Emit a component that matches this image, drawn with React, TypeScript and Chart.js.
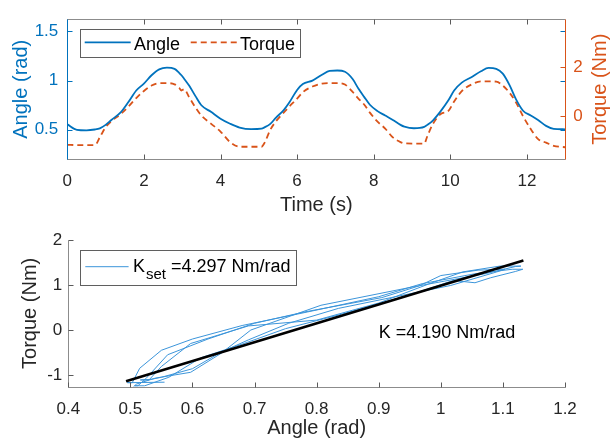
import React, { useEffect, useRef } from 'react';
import { Chart, registerables } from 'chart.js';

Chart.register(...registerables);

const FONT = '"Liberation Sans", Arial, Helvetica, sans-serif';
const BLUE = '#0072BD';
const ORANGE = '#D95319';
const LOOP_BLUE = '#3C95DA';
const TEXT = '#262626';
const AXIS_GRAY = '#8C8C8C';
const TICK_GRAY = '#5A5A5A';

// ---- data ----
const time = [
  0, 0.25, 0.5, 0.72, 0.85, 1.0, 1.15, 1.4, 1.6, 1.8,
  2.0, 2.2, 2.4, 2.6, 2.8, 2.92, 2.98, 3.05, 3.18, 3.35,
  3.5, 3.75, 4.0, 4.25, 4.5, 4.8, 5.07, 5.15, 5.3, 5.45,
  5.65, 5.8, 6.0, 6.15, 6.4, 6.65, 6.85, 7.05, 7.25, 7.45,
  7.6, 7.75, 7.9, 8.1, 8.3, 8.5, 8.7, 8.8, 9.05, 9.32,
  9.4, 9.55, 9.75, 9.95, 10.1, 10.3, 10.55, 10.8, 11.0, 11.2,
  11.37, 11.55, 11.72, 11.9, 12.1, 12.3, 12.5, 12.7, 13.0,
];
const angle = [
  0.555, 0.5, 0.495, 0.503, 0.515, 0.55, 0.6, 0.68, 0.785, 0.9,
  0.97, 1.055, 1.115, 1.132, 1.12, 1.08, 1.055, 1.02, 0.95, 0.84,
  0.75, 0.683, 0.613, 0.562, 0.523, 0.507, 0.512, 0.525, 0.56, 0.625,
  0.7, 0.78, 0.905, 0.965, 1.0, 1.06, 1.1, 1.103, 1.09, 1.016,
  0.92, 0.835, 0.755, 0.69, 0.645, 0.6, 0.55, 0.532, 0.516, 0.53,
  0.55, 0.597, 0.69, 0.8, 0.9, 0.98, 1.035, 1.095, 1.129, 1.12,
  1.071, 0.952, 0.807, 0.694, 0.646, 0.597, 0.54, 0.51, 0.505,
];
const torque = [
  -1.16, -1.17, -1.17, -1.17, -0.85, -0.45, -0.2, 0.1, 0.4, 0.74,
  1.03, 1.25, 1.35, 1.35, 1.3, 1.16, 1.05, 1.1, 0.78, 0.35,
  0.03, -0.3, -0.62, -1.05, -1.24, -1.24, -1.24, -1.08, -0.55, -0.2,
  0.15, 0.4, 0.72, 0.98, 1.21, 1.33, 1.35, 1.35, 1.29, 0.99,
  0.72, 0.48, 0.15, -0.22, -0.5, -0.86, -1.05, -1.1, -1.11, -1.11,
  -0.81, -0.3, 0.09, 0.22, 0.6, 1.02, 1.29, 1.42, 1.42, 1.41,
  1.25, 0.95, 0.55, 0.0, -0.52, -0.94, -1.07, -1.2, -1.26,
];
const timeTicks = [0, 2, 4, 6, 8, 10, 12];
const angleTicks = [0.5, 1, 1.5];
const torqueTicks = [0, 2];
const angleAxisTicks = [0.4, 0.5, 0.6, 0.7, 0.8, 0.9, 1, 1.1, 1.2];
const torqueAxisTicks = [-1, 0, 1, 2];
const fitAngle = [0.493, 1.133];
const fitTorque = [-1.137, 1.547];
const legendLabels = ['Angle', 'Torque'];
const kSetLabel = { main: 'K', sub: 'set', rest: ' =4.297 Nm/rad' };
const kFitText = 'K =4.190 Nm/rad';
const kFitAnchor = { x: 0.9, y: 0 };

// ---- helpers ----
const crisp = (v: number) => Math.round(v) + 0.5;
function seg(ctx: CanvasRenderingContext2D, x1: number, y1: number, x2: number, y2: number) {
  ctx.beginPath();
  ctx.moveTo(x1, y1);
  ctx.lineTo(x2, y2);
  ctx.stroke();
}
const setTicks = (vals: number[]) => (s: any) => {
  s.ticks = vals.map((v) => ({ value: v }));
};
const fmt = (v: any) => String(v);

const topDecor = {
  id: 'topDecor',
  afterDatasetsDraw(chart: any) {
    const { ctx, chartArea: a, scales } = chart;
    const L = crisp(a.left), R = crisp(a.right), T = crisp(a.top), B = crisp(a.bottom);
    const TL = 5;
    ctx.save();
    ctx.lineWidth = 1;
    ctx.setLineDash([]);
    ctx.strokeStyle = AXIS_GRAY;
    seg(ctx, L, T, R, T);
    seg(ctx, L, B, R, B);
    ctx.strokeStyle = TICK_GRAY;
    for (const v of timeTicks) {
      const px = crisp(scales.x.getPixelForValue(v));
      seg(ctx, px, B, px, B - TL);
      seg(ctx, px, T, px, T + TL);
    }
    ctx.strokeStyle = BLUE;
    seg(ctx, L, T, L, B);
    for (const v of angleTicks) {
      const py = crisp(scales.yA.getPixelForValue(v));
      seg(ctx, L, py, L + TL, py);
      seg(ctx, R, py, R - TL, py);
    }
    ctx.strokeStyle = ORANGE;
    seg(ctx, R, T, R, B);
    for (const v of torqueTicks) {
      const py = crisp(scales.yT.getPixelForValue(v));
      seg(ctx, R, py, R - TL, py);
    }
    // right axis title (reads bottom to top, like the left one)
    ctx.fillStyle = ORANGE;
    ctx.font = `20px ${FONT}`;
    ctx.textAlign = 'center';
    ctx.textBaseline = 'middle';
    ctx.translate(600, (a.top + a.bottom) / 2);
    ctx.rotate(-Math.PI / 2);
    ctx.fillText('Torque (Nm)', 0, 0);
    ctx.restore();

    // legend
    ctx.save();
    ctx.font = `18px ${FONT}`;
    const ds = chart.data.datasets;
    const x0 = a.left + 12.7;
    const y0 = a.top + 9.7;
    const h = 27.6;
    const lineY = y0 + 13.5;
    const baseY = y0 + 21.4;
    const s1 = x0 + 4.7;
    const t1 = s1 + 49.3;
    const w1 = ctx.measureText(legendLabels[0]).width;
    const s2 = t1 + w1 + 10.7;
    const t2 = s2 + 49.3;
    const w2 = ctx.measureText(legendLabels[1]).width;
    const x1 = t2 + w2 + 5;
    ctx.fillStyle = '#ffffff';
    ctx.fillRect(x0, y0, x1 - x0, h);
    ctx.lineWidth = 1;
    ctx.strokeStyle = '#5f5f5f';
    ctx.strokeRect(crisp(x0), crisp(y0), Math.round(x1 - x0), Math.round(h));
    ctx.lineWidth = ds[0].borderWidth;
    ctx.strokeStyle = ds[0].borderColor;
    seg(ctx, s1, lineY, s1 + 46, lineY);
    ctx.strokeStyle = ds[1].borderColor;
    ctx.setLineDash(ds[1].borderDash);
    seg(ctx, s2, lineY, s2 + 46, lineY);
    ctx.setLineDash([]);
    ctx.fillStyle = '#000000';
    ctx.textAlign = 'left';
    ctx.textBaseline = 'alphabetic';
    ctx.fillText(legendLabels[0], t1, baseY);
    ctx.fillText(legendLabels[1], t2, baseY);
    ctx.restore();
  },
};

const bottomDecor = {
  id: 'bottomDecor',
  afterDatasetsDraw(chart: any) {
    const { ctx, chartArea: a, scales } = chart;
    const L = crisp(a.left), R = crisp(a.right), T = crisp(a.top), B = crisp(a.bottom);
    const TL = 5;
    ctx.save();
    ctx.lineWidth = 1;
    ctx.strokeStyle = AXIS_GRAY;
    seg(ctx, L, T, L, B);
    seg(ctx, L, B, R, B);
    ctx.strokeStyle = TICK_GRAY;
    for (const v of angleAxisTicks) {
      const px = crisp(scales.x.getPixelForValue(v));
      seg(ctx, px, B, px, B - TL);
    }
    for (const v of torqueAxisTicks) {
      const py = crisp(scales.y.getPixelForValue(v));
      seg(ctx, L, py, L + TL, py);
    }
    // annotation
    ctx.fillStyle = '#000000';
    ctx.font = `18px ${FONT}`;
    ctx.textAlign = 'left';
    ctx.textBaseline = 'alphabetic';
    ctx.fillText(
      kFitText,
      scales.x.getPixelForValue(kFitAnchor.x),
      scales.y.getPixelForValue(kFitAnchor.y) + 8
    );

    // legend
    const ds = chart.data.datasets[1];
    const x0 = a.left + 12;
    const y0 = a.top + 10;
    const h = 35;
    const s1 = x0 + 5;
    const tx = x0 + 52.7;
    ctx.font = `18px ${FONT}`;
    const wK = ctx.measureText(kSetLabel.main).width;
    ctx.font = `15px ${FONT}`;
    const wSub = ctx.measureText(kSetLabel.sub).width;
    ctx.font = `18px ${FONT}`;
    const wRest = ctx.measureText(kSetLabel.rest).width;
    const x1 = tx + wK + 1 + wSub + wRest + 6;
    ctx.fillStyle = '#ffffff';
    ctx.fillRect(x0, y0, x1 - x0, h);
    ctx.strokeStyle = '#5f5f5f';
    ctx.lineWidth = 1;
    ctx.strokeRect(crisp(x0), crisp(y0), Math.round(x1 - x0), Math.round(h));
    ctx.strokeStyle = ds.borderColor;
    ctx.lineWidth = 1;
    seg(ctx, s1, y0 + 16.7, s1 + 43.3, y0 + 16.7);
    ctx.fillStyle = '#000000';
    ctx.font = `18px ${FONT}`;
    ctx.fillText(kSetLabel.main, tx, y0 + 21.7);
    ctx.font = `15px ${FONT}`;
    ctx.fillText(kSetLabel.sub, tx + wK + 1, y0 + 29.3);
    ctx.font = `18px ${FONT}`;
    ctx.fillText(kSetLabel.rest, tx + wK + 1 + wSub, y0 + 21.7);
    ctx.restore();
  },
};

const tickFont = { size: 17, family: FONT };
const titleFont = { size: 20, family: FONT };
const noGrid = { display: false, drawTicks: false };

export default function App() {
  const topRef = useRef<HTMLCanvasElement>(null);
  const botRef = useRef<HTMLCanvasElement>(null);

  useEffect(() => {
    document.body.style.margin = '0';
    const angleSeries = time.map((t, i) => ({ x: t, y: angle[i] }));
    const torqueSeries = time.map((t, i) => ({ x: t, y: torque[i] }));
    const loopSeries = angle.map((a, i) => ({ x: a, y: torque[i] }));
    const fitSeries = fitAngle.map((a, i) => ({ x: a, y: fitTorque[i] }));

    const top = new Chart(topRef.current!, {
      type: 'line',
      data: {
        datasets: [
          {
            label: 'Angle',
            data: angleSeries,
            yAxisID: 'yA',
            borderColor: BLUE,
            borderWidth: 1.8,
            pointRadius: 0,
            cubicInterpolationMode: 'monotone',
          },
          {
            label: 'Torque',
            data: torqueSeries,
            yAxisID: 'yT',
            borderColor: ORANGE,
            borderWidth: 1.8,
            borderDash: [6, 4],
            pointRadius: 0,
            cubicInterpolationMode: 'monotone',
          },
        ],
      },
      options: {
        animation: false,
        responsive: false,
        devicePixelRatio: 1,
        layout: { padding: { top: 12, left: 0, right: 0, bottom: 0 } },
        plugins: { legend: { display: false }, tooltip: { enabled: false } },
        scales: {
          x: {
            type: 'linear',
            position: 'bottom',
            min: 0,
            max: 13,
            afterBuildTicks: setTicks(timeTicks),
            afterFit: (s: any) => { s.height = 60.7; },
            grid: noGrid,
            border: { display: false },
            ticks: { padding: 12, font: tickFont, color: TEXT, callback: fmt, autoSkip: false, maxRotation: 0 },
            title: { display: true, text: 'Time (s)', font: titleFont, color: TEXT, padding: { top: 0, bottom: 3 } },
          },
          yA: {
            type: 'linear',
            position: 'left',
            min: 0.2,
            max: 1.625,
            afterBuildTicks: setTicks(angleTicks),
            afterFit: (s: any) => { s.width = 67.3; },
            grid: noGrid,
            border: { display: false },
            ticks: { padding: 9, font: tickFont, color: BLUE, callback: fmt },
            title: { display: true, text: 'Angle (rad)', font: titleFont, color: BLUE, padding: { top: 9.5, bottom: 0 } },
          },
          yT: {
            type: 'linear',
            position: 'right',
            min: -1.75,
            max: 3.95,
            afterBuildTicks: setTicks(torqueTicks),
            afterFit: (s: any) => { s.width = 46.8; },
            grid: noGrid,
            border: { display: false },
            ticks: { padding: 8, font: tickFont, color: ORANGE, callback: fmt },
          },
        },
      },
      plugins: [topDecor],
    } as any);

    const bottom = new Chart(botRef.current!, {
      type: 'line',
      data: {
        datasets: [
          {
            label: 'K fit',
            data: fitSeries,
            borderColor: '#000000',
            borderWidth: 2.6,
            pointRadius: 0,
            tension: 0,
          },
          {
            label: 'K set',
            data: loopSeries,
            borderColor: LOOP_BLUE,
            borderWidth: 1,
            pointRadius: 0,
            tension: 0,
          },
        ],
      },
      options: {
        animation: false,
        responsive: false,
        devicePixelRatio: 1,
        layout: { padding: { top: 20, left: 0, right: 47, bottom: 0 } },
        plugins: { legend: { display: false }, tooltip: { enabled: false } },
        scales: {
          x: {
            type: 'linear',
            position: 'bottom',
            min: 0.4,
            max: 1.2,
            afterBuildTicks: setTicks(angleAxisTicks),
            afterFit: (s: any) => { s.height = 55.3; },
            grid: noGrid,
            border: { display: false },
            ticks: { padding: 12, font: tickFont, color: TEXT, callback: fmt, autoSkip: false, maxRotation: 0 },
            title: { display: true, text: 'Angle (rad)', font: titleFont, color: TEXT, padding: { top: 0, bottom: 2 } },
          },
          y: {
            type: 'linear',
            position: 'left',
            min: -1.26,
            max: 2,
            afterBuildTicks: setTicks(torqueAxisTicks),
            afterFit: (s: any) => { s.width = 68.3; },
            grid: noGrid,
            border: { display: false },
            ticks: { padding: 6, font: tickFont, color: TEXT, callback: fmt },
            title: { display: true, text: 'Torque (Nm)', font: titleFont, color: TEXT, padding: { top: 18, bottom: 0 } },
          },
        },
      },
      plugins: [bottomDecor],
    } as any);

    return () => {
      top.destroy();
      bottom.destroy();
    };
  }, []);

  return (
    <div style={{ position: 'fixed', left: 0, top: 0, width: 612, height: 442, background: '#ffffff' }}>
      <canvas ref={topRef} width={612} height={220} style={{ position: 'absolute', left: 0, top: 0, width: 612, height: 220 }} />
      <canvas ref={botRef} width={612} height={222} style={{ position: 'absolute', left: 0, top: 220, width: 612, height: 222 }} />
    </div>
  );
}
